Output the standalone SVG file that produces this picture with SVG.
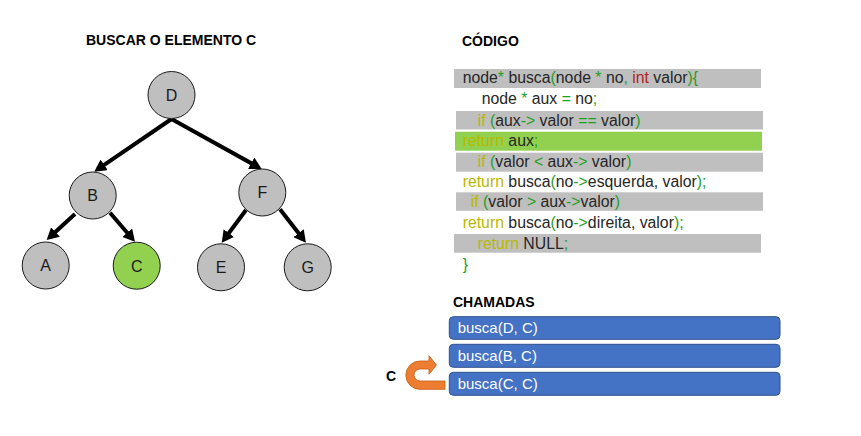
<svg xmlns="http://www.w3.org/2000/svg" width="861" height="436" viewBox="0 0 861 436">
<style>
.bg{fill:#ffffff}
.title{font-family:"Liberation Sans",Arial,sans-serif;font-weight:bold;font-size:14px;fill:#000}
.node{fill:#BFBFBF;stroke:#1a1a1a;stroke-width:1}
.hit{fill:#92D050}
.lbl{font-family:"Liberation Sans",Arial,sans-serif;font-size:16px;fill:#1a1a1a;text-anchor:middle}
.edge{stroke:#000;stroke-width:4;fill:none}
.code{font-family:"Liberation Sans",Arial,sans-serif;font-size:15.8px;fill:#262626}
.g{fill:#1EA01E}
.y{fill:#B8B800}
.r{fill:#B22222}
.row{fill:#BFBFBF}
.grow{fill:#92D050}
.call{fill:#4472C4;stroke:#2F528F;stroke-width:1}
.ctext{font-family:"Liberation Sans",Arial,sans-serif;font-size:15px;fill:#fff}
</style>
<defs>
<marker id="ah" markerUnits="userSpaceOnUse" markerWidth="13" markerHeight="13" refX="8" refY="6.5" orient="auto" viewBox="0 0 13 13">
<path d="M0,0 L12,6.5 L0,13 z" fill="#000"/>
</marker>
</defs>
<rect class="bg" width="861" height="436"/>
<text class="title" x="86" y="45">BUSCAR O ELEMENTO C</text>
<text class="title" x="462" y="46">CÓDIGO</text>
<text class="title" x="453" y="307">CHAMADAS</text>

<g id="connectors">
<line class="edge" x1="171.5" y1="119" x2="97.6" y2="169.4" marker-end="url(#ah)"/>
<line class="edge" x1="171.5" y1="119" x2="258.2" y2="167.1" marker-end="url(#ah)"/>
<line class="edge" x1="75" y1="214" x2="49.6" y2="237.3" marker-end="url(#ah)"/>
<line class="edge" x1="110" y1="212.7" x2="132.4" y2="238.7" marker-end="url(#ah)"/>
<line class="edge" x1="246" y1="210" x2="224.1" y2="239.5" marker-end="url(#ah)"/>
<line class="edge" x1="280" y1="209.3" x2="303.5" y2="239.5" marker-end="url(#ah)"/>
</g>

<g id="node-D"><circle class="node" cx="171.5" cy="95" r="23.5"/><text class="lbl" x="171.5" y="100.8">D</text></g>
<g id="node-B"><circle class="node" cx="92.7" cy="195.5" r="23.5"/><text class="lbl" x="92.7" y="201.3">B</text></g>
<g id="node-F"><circle class="node" cx="262.3" cy="192.5" r="23.5"/><text class="lbl" x="262.3" y="198.3">F</text></g>
<g id="node-A"><circle class="node" cx="45.7" cy="265.5" r="23.5"/><text class="lbl" x="45.7" y="271.3">A</text></g>
<g id="node-C"><circle class="node hit" cx="136.7" cy="265.7" r="23.5"/><text class="lbl" x="136.7" y="271.5">C</text></g>
<g id="node-E"><circle class="node" cx="221" cy="267.3" r="23.5"/><text class="lbl" x="221" y="273.1">E</text></g>
<g id="node-G"><circle class="node" cx="307.7" cy="267.3" r="23.5"/><text class="lbl" x="307.7" y="273.1">G</text></g>

<g id="code">
<rect class="row" x="454" y="69" width="307" height="19"/>
<rect class="row" x="456" y="111" width="307" height="18.5"/>
<rect class="grow" x="455" y="131.7" width="307" height="19"/>
<rect class="row" x="456" y="152.7" width="307" height="19"/>
<rect class="row" x="456" y="192.3" width="307" height="18.5"/>
<rect class="row" x="454" y="234" width="307" height="18.7"/>
<text class="code" x="462.7" y="83" xml:space="preserve">node<tspan class="g">*</tspan> busca<tspan class="g">(</tspan>node <tspan class="g">*</tspan> no<tspan class="g">,</tspan> <tspan class="r">int</tspan> valor<tspan class="g">){</tspan></text>
<text class="code" x="481.7" y="104" xml:space="preserve">node <tspan class="g">*</tspan> aux <tspan class="g">=</tspan> no<tspan class="g">;</tspan></text>
<text class="code" x="477.7" y="125.5" xml:space="preserve"><tspan class="y">if</tspan> <tspan class="g">(</tspan>aux<tspan class="g">-&gt;</tspan> valor <tspan class="g">==</tspan> valor<tspan class="g">)</tspan></text>
<text class="code" x="462.7" y="146" xml:space="preserve"><tspan class="y">return</tspan> aux<tspan class="g">;</tspan></text>
<text class="code" x="477.7" y="166.5" xml:space="preserve"><tspan class="y">if</tspan> <tspan class="g">(</tspan>valor <tspan class="g">&lt;</tspan> aux<tspan class="g">-&gt;</tspan> valor<tspan class="g">)</tspan></text>
<text class="code" x="462.7" y="187" xml:space="preserve"><tspan class="y">return</tspan> busca<tspan class="g">(</tspan>no<tspan class="g">-&gt;</tspan>esquerda, valor<tspan class="g">);</tspan></text>
<text class="code" x="470.7" y="207" xml:space="preserve"><tspan class="y">if</tspan> <tspan class="g">(</tspan>valor <tspan class="g">&gt;</tspan> aux<tspan class="g">-&gt;</tspan>valor<tspan class="g">)</tspan></text>
<text class="code" x="462.7" y="228" xml:space="preserve"><tspan class="y">return</tspan> busca<tspan class="g">(</tspan>no<tspan class="g">-&gt;</tspan>direita, valor<tspan class="g">);</tspan></text>
<text class="code" x="477.7" y="249" xml:space="preserve"><tspan class="y">return</tspan> NULL<tspan class="g">;</tspan></text>
<text class="code g" x="462.7" y="269.5">}</text>
</g>

<g id="call-1"><rect class="call" x="449.3" y="316.7" width="330.7" height="22.6" rx="4"/><text class="ctext" x="457.7" y="333">busca(D, C)</text></g>
<g id="call-2"><rect class="call" x="449.3" y="344.3" width="330.7" height="23" rx="4"/><text class="ctext" x="457.7" y="361">busca(B, C)</text></g>
<g id="call-3"><rect class="call" x="449.3" y="372.3" width="330.7" height="23" rx="4"/><text class="ctext" x="457.7" y="389">busca(C, C)</text></g>

<g id="return-arrow">
<path d="M445,389.3 L420,389.3 A14.15,14.15 0 0 1 420,361 L429,361 L429,355.7 L436.5,365 L429,374.3 L429,369 L420,369 A6,6 0 0 0 420,381 L445,381 Z" fill="#ED7D31" stroke="#C55A11" stroke-width="0.8"/>
</g>
<text class="title" x="386" y="381">C</text>
</svg>
